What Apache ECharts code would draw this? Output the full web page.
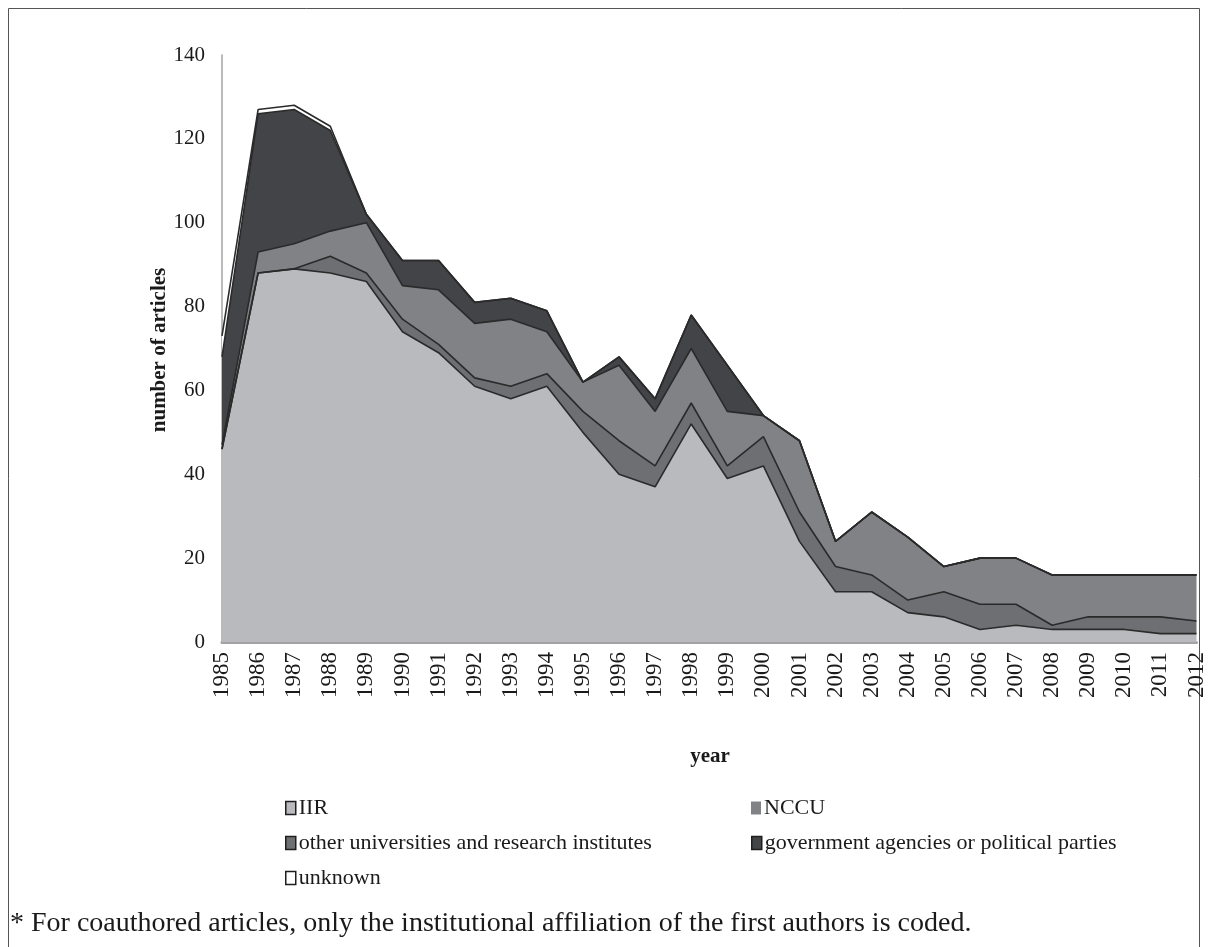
<!DOCTYPE html>
<html>
<head>
<meta charset="utf-8">
<script src="https://cdn.jsdelivr.net/npm/echarts@6/dist/echarts.min.js"></script>
<style>
html,body{margin:0;padding:0;background:#fff;}
#chart{width:1208px;height:947px;}
</style>
</head>
<body>
<div id="chart"></div>
<script>
var years = ['1985','1986','1987','1988','1989','1990','1991','1992','1993','1994','1995','1996','1997','1998','1999','2000','2001','2002','2003','2004','2005','2006','2007','2008','2009','2010','2011','2012'];
var iir      = [46,88,89,88,86,74,69,61,58,61,50,40,37,52,39,42,24,12,12,7,6,3,4,3,3,3,2,2];
var otherUni = [0,0,0,4,2,3,2,2,3,3,5,8,5,5,3,7,7,6,4,3,6,6,5,1,3,3,4,3];
var nccu     = [1,5,6,6,12,8,13,13,16,10,7,18,13,13,13,5,17,6,15,15,6,11,11,12,10,10,10,11];
var gov      = [21,33,32,24,2,6,7,5,5,5,0,2,3,8,11,0,0,0,0,0,0,0,0,0,0,0,0,0];
var unknown  = [5,1,1,1,0,0,0,0,0,0,0,0,0,0,0,0,0,0,0,0,0,0,0,0,0,0,0,0];
var yTicks = [0,20,40,60,80,100,120,140];

var serif = 'Liberation Serif';
var chart = echarts.init(document.getElementById('chart'));

function areaSeries(name, data, color) {
  return {
    name: name, type: 'line', stack: 'total', data: data,
    symbol: 'none', color: color,
    itemStyle: {color: color},
    lineStyle: {color: '#2a2a2a', width: 1.6},
    areaStyle: {color: color, opacity: 1},
    emphasis: {disabled: true},
    silent: true
  };
}

function legendAt(name, left, top, noBorder) {
  return {
    data: [{name: name, itemStyle: noBorder ? {borderWidth: 0} : {}}],
    left: left, top: top, icon: 'rect', itemWidth: 10, itemHeight: 13,
    itemGap: 4, selectedMode: false,
    itemStyle: {borderColor: '#1e1e1e', borderWidth: 1.5},
    textStyle: {fontFamily: serif, fontSize: 22, color: '#1a1a1a', padding: [0,0,0,-2]}
  };
}

chart.setOption({
  animation: false,
  backgroundColor: '#fff',
  grid: {left: 222, right: 10, top: 55, bottom: 305, containLabel: false},
  xAxis: {
    type: 'category', data: years, boundaryGap: false,
    axisLine: {lineStyle: {color: '#a3a3a3', width: 3}},
    axisTick: {show: false},
    axisLabel: {rotate: 90, fontFamily: serif, fontSize: 23, color: '#1a1a1a', margin: 10, interval: 0}
  },
  yAxis: {
    type: 'value', min: yTicks[0], max: yTicks[yTicks.length-1], interval: 20,
    axisLine: {show: true, lineStyle: {color: '#a3a3a3', width: 1.5}},
    axisTick: {show: false},
    splitLine: {show: false},
    axisLabel: {fontFamily: serif, fontSize: 21, color: '#1a1a1a', margin: 17}
  },
  legend: [
    legendAt('IIR', 280, 792),
    legendAt('NCCU', 746, 792, true),
    legendAt('other universities and research institutes', 280, 827),
    legendAt('government agencies or political parties', 746, 827),
    legendAt('unknown', 280, 862)
  ],
  series: [
    areaSeries('IIR', iir, '#b9babe'),
    areaSeries('other universities and research institutes', otherUni, '#6e6f72'),
    areaSeries('NCCU', nccu, '#818286'),
    areaSeries('government agencies or political parties', gov, '#434447'),
    areaSeries('unknown', unknown, '#ffffff')
  ],
  graphic: [
    {type: 'rect', shape: {x: 8.5, y: 8.5, width: 1191, height: 960}, style: {fill: 'none', stroke: '#555', lineWidth: 1}, silent: true, z: -1},
    {type: 'text', x: 160, y: 350, rotation: Math.PI/2, style: {text: 'number of articles', font: 'bold 21px "Liberation Serif"', fill: '#1a1a1a', textAlign: 'center', textVerticalAlign: 'middle'}},
    {type: 'text', x: 710, y: 757, style: {text: 'year', font: 'bold 21px "Liberation Serif"', fill: '#1a1a1a', textAlign: 'center', textVerticalAlign: 'middle'}},
    {type: 'text', x: 10, y: 924, style: {text: '* For coauthored articles, only the institutional affiliation of the first authors is coded.', font: '28px "Liberation Serif"', fill: '#1a1a1a', textAlign: 'left', textVerticalAlign: 'middle'}}
  ]
});
</script>
</body>
</html>
